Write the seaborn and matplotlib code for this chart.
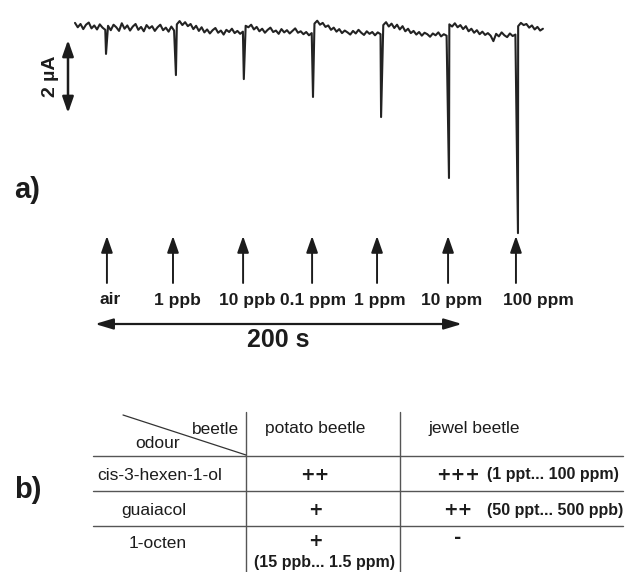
import numpy as np
import pandas as pd
import matplotlib
matplotlib.use("Agg")
import matplotlib.pyplot as plt
import seaborn as sns

# ---------------- data ----------------
sample_step_s = 1.5  # baseline sampling interval (s)
seg_a = [0.14, 0.02, 0.11, -0.03, 0.09, 0.15, -0.01, 0.07, -0.04, 0.10, 0.01, -0.05]
seg_b = [0.06, -0.06, 0.09, 0.02, -0.08, 0.13, -0.02, 0.07, -0.07, 0.04, 0.11, -0.05, 0.03,
         -0.09, 0.08, -0.01, 0.05, -0.08, 0.02, 0.09, -0.06, 0.01, -0.10, 0.04, -0.07]
seg_c = [0.10, 0.19, 0.08, 0.16, 0.05, 0.11, -0.03, 0.06, -0.08, 0.02, -0.12, -0.04, -0.15,
         -0.06, 0.00, -0.13, -0.07, -0.18, -0.05, -0.11, -0.02, -0.14, -0.08, -0.16, -0.10]
seg_d = [0.06, 0.02, 0.09, -0.04, 0.03, -0.09, -0.02, -0.13, -0.05, 0.01, -0.11, -0.07, -0.16,
         -0.03, -0.12, -0.06, -0.15, -0.08, -0.01, -0.13, -0.09, -0.17, -0.11, -0.20, -0.14]
seg_e = [0.12, 0.20, 0.09, 0.14, 0.03, 0.07, -0.05, 0.01, -0.10, -0.03, -0.14, -0.07, -0.12,
         -0.18, -0.08, -0.15, -0.05, -0.13, -0.19, -0.09, -0.16, -0.11, -0.20, -0.12, -0.17]
seg_f = [0.08, 0.16, 0.04, 0.12, 0.00, 0.09, -0.04, 0.05, -0.09, -0.02, -0.14, -0.08, -0.18,
         -0.11, -0.21, -0.13, -0.17, -0.24, -0.15, -0.20, -0.12, -0.23, -0.17, -0.21]
seg_g = [0.10, 0.04, 0.13, 0.02, 0.08, -0.03, 0.05, -0.09, -0.02, -0.13, -0.06, -0.17, -0.10,
         -0.19, -0.14, -0.21, -0.36, -0.16, -0.23, -0.12, -0.20, -0.25, -0.15, -0.22, -0.18]
seg_h = [0.05, 0.14, 0.08, 0.11, 0.01, 0.07, -0.04, 0.03, -0.07, -0.02]

response_times = [16.9, 55.0, 92.0, 129.7, 166.8, 203.8, 241.4]      # s
response_peaks = [-0.71, -1.29, -1.40, -1.89, -2.44, -4.11, -5.62]   # µA
stim_times = [17.4, 53.4, 91.6, 129.2, 164.6, 203.3, 240.3]          # s
stim_labels = ["air", "1 ppb", "10 ppb", "0.1 ppm", "1 ppm", "10 ppm", "100 ppm"]

scale_bar_uA = 2
time_bar_s = 200

beetles = ["potato beetle", "jewel beetle"]
odours = ["cis-3-hexen-1-ol", "guaiacol", "1-octen"]
potato_resp = ["++", "+", "+"]
jewel_resp = ["+++", "++", "-"]
potato_range = ["", "", "(15 ppb... 1.5 ppm)"]
jewel_range = ["(1 ppt... 100 ppm)", "(50 ppt... 500 ppb)", ""]

# ---------------- build trace ----------------
baseline = seg_a + seg_b + seg_c + seg_d + seg_e + seg_f + seg_g + seg_h
t_base = np.arange(len(baseline)) * sample_step_s
trace = pd.DataFrame({
    "t": np.concatenate([t_base, response_times]),
    "v": np.concatenate([baseline, response_peaks]),
}).sort_values("t").reset_index(drop=True)

# ---------------- figure ----------------
sns.set_style("white")
plt.rcParams["font.family"] = ["Liberation Sans", "DejaVu Sans"]

W, H = 627, 572
fig = plt.figure(figsize=(W / 100, H / 100), dpi=100)

# pixel -> data helpers (layout only)
PX_PER_S = 1.835
PX_PER_UA = 36.5
X0_PX, Y0_PX = 75, 28
def X(px):
    return (px - X0_PX) / PX_PER_S
def Y(py):
    return (Y0_PX - py) / PX_PER_UA

ax = fig.add_axes([0, 0, 1, 1])
ax.set_xlim(X(0), X(W))
ax.set_ylim(Y(H), Y(0))
ax.axis("off")

ink = "#1c1c1c"
sns.lineplot(data=trace, x="t", y="v", ax=ax, color="#232323", lw=1.5,
             estimator=None, sort=True, legend=False)

# stimulus arrows and labels
label_offsets_px = [3, 4, 4, 1, 3, 4, 22]
for ts, lab, off in zip(stim_times, stim_labels, label_offsets_px):
    ax.annotate("", xy=(ts, Y(236)), xytext=(ts, Y(283)),
                arrowprops=dict(arrowstyle="-|>,head_length=0.4,head_width=0.14",
                                mutation_scale=25, lw=1.4, color=ink,
                                shrinkA=0, shrinkB=0))
    ax.text(ts + off / PX_PER_S, Y(300), lab, ha="center", va="center",
            fontsize=12.5, fontweight="bold", color=ink)

# 200 s time bar
tb0 = X(95)
ax.annotate("", xy=(tb0, Y(324)), xytext=(tb0 + time_bar_s, Y(324)),
            arrowprops=dict(arrowstyle="<|-|>,head_length=0.4,head_width=0.12",
                            mutation_scale=27, lw=1.6, color=ink,
                            shrinkA=0, shrinkB=0))
ax.text(tb0 + time_bar_s / 2, Y(340), f"{time_bar_s} s", ha="center", va="center",
        fontsize=18, fontweight="bold", color=ink)

# 2 µA scale bar
sb_top = Y(40)
ax.annotate("", xy=(X(68), sb_top), xytext=(X(68), sb_top - scale_bar_uA),
            arrowprops=dict(arrowstyle="<|-|>,head_length=0.4,head_width=0.14",
                            mutation_scale=24, lw=1.8, color=ink,
                            shrinkA=0, shrinkB=0))
ax.text(X(51), sb_top - scale_bar_uA / 2, f"{scale_bar_uA} µA", rotation=90,
        ha="center", va="center", fontsize=14, fontweight="bold", color=ink)

# ---------------- overlay (pixel coords) for panel labels & table ----------------
ov = fig.add_axes([0, 0, 1, 1])
ov.set_xlim(0, W)
ov.set_ylim(H, 0)
ov.axis("off")
ov.patch.set_alpha(0)

ov.text(14, 190, "a)", ha="left", va="center", fontsize=21, fontweight="bold", color=ink)
ov.text(14, 490, "b)", ha="left", va="center", fontsize=21, fontweight="bold", color=ink)

line_c = "#555555"
for yy in [456, 491, 526]:
    ov.plot([93, 623], [yy, yy], color=line_c, lw=1.0)
for xx in [246, 400]:
    ov.plot([xx, xx], [412, 572], color=line_c, lw=1.0)
ov.plot([123, 246], [415, 455], color="#333333", lw=0.9)

reg = dict(fontsize=12.5, color=ink, va="center")
ov.text(215, 429, "beetle", ha="center", **reg)
ov.text(158, 443, "odour", ha="center", **reg)
ov.text(315, 428, beetles[0], ha="center", **reg)
ov.text(474, 428, beetles[1], ha="center", **reg)

row_y = [475, 510, 543]
row_x = [160, 154, 158]
for y, x, od in zip(row_y, row_x, odours):
    ov.text(x, y, od, ha="center", **reg)

plus = dict(fontsize=12.5, fontweight="bold", color=ink, ha="center", va="center",
            family=["DejaVu Sans"])
rng = dict(fontsize=11.5, fontweight="bold", color=ink, va="center")
for i, y in enumerate(row_y):
    py = y if i < 2 else 541
    ov.text(315, py, potato_resp[i], **plus)
    if potato_range[i]:
        ov.text(325, 563, potato_range[i], ha="center", **rng)
    jy = y if i < 2 else 538
    ov.text(458, jy, jewel_resp[i], **plus)
    if jewel_range[i]:
        ov.text(487, y, jewel_range[i], ha="left", **rng)

fig.savefig("out.png", dpi=100)
